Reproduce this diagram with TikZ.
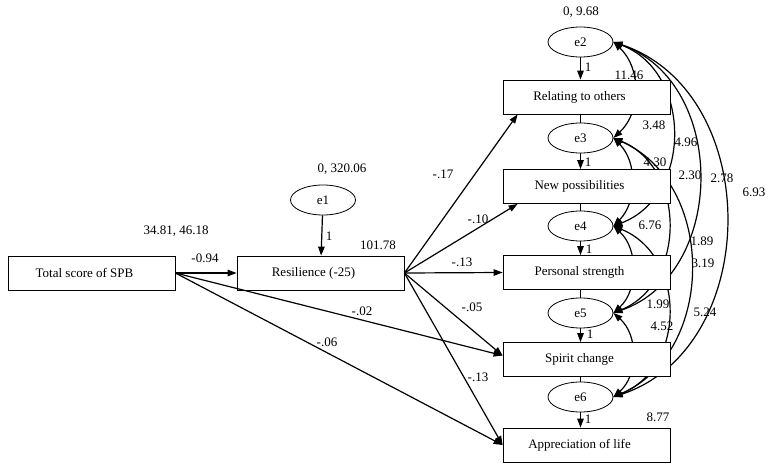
\documentclass[tikz,border=0pt]{standalone}
\usepackage{fontspec}
\setmainfont{Liberation Serif}
\usetikzlibrary{shapes.geometric,arrows.meta,calc}

\tikzset{
  var/.style={draw, fill=white, line width=0.8pt, minimum width=167pt, minimum height=34pt, inner sep=0pt,
    execute at end node={\hspace*{14pt}}},
  err/.style={draw, fill=white, ellipse, line width=0.8pt, minimum width=65pt, minimum height=30pt, inner sep=0pt},
  reg/.style={-{Triangle[length=9pt,width=6.5pt]}, line width=1.2pt},
  cov/.style={{Triangle[length=9pt,width=6.5pt]}-{Triangle[length=9pt,width=6.5pt]}, line width=1.2pt},
  lbl/.style={inner sep=1pt}
}

\begin{document}
\begin{tikzpicture}[x=1pt, y=-1pt, font=\fontsize{13}{15}\selectfont]
\useasboundingbox (0,0) rectangle (773,471);

% error terms
\node[err] (e1) at (323,200) {e1};
\node[err] (e2) at (580.5,42) {e2};
\node[err] (e3) at (580.5,138) {e3};
\node[err] (e4) at (580.5,226) {e4};
\node[err] (e5) at (580.5,313) {e5};
\node[err] (e6) at (580.5,397) {e6};

% covariances between the errors
\draw[cov] (e2.east) .. controls +(28,26) and +(28,-26) .. (e3.east);
\draw[cov] (e2.east) .. controls +(79,30) and +(79,-30) .. (e4.east);
\draw[cov] (e2.east) .. controls +(114,40) and +(114,-40) .. (e5.east);
\draw[cov] (e2.east) .. controls +(150,50) and +(150,-50) .. (e6.east);
\draw[cov] (e3.east) .. controls +(24,24) and +(24,-24) .. (e4.east);
\draw[cov] (e3.east) .. controls +(73,30) and +(73,-30) .. (e5.east);
\draw[cov] (e3.east) .. controls +(103,45) and +(103,-45) .. (e6.east);
\draw[cov] (e4.east) .. controls +(25,23) and +(25,-23) .. (e5.east);
\draw[cov] (e4.east) .. controls +(73,30) and +(73,-30) .. (e6.east);
\draw[cov] (e5.east) .. controls +(25,22) and +(25,-22) .. (e6.east);

% observed variables
\node[var] (spb) at (91.5,273) {Total score of SPB};
\node[var] (res) at (320.5,273) {Resilience (-25)};
\node[var] (rel) at (586.5,97) {Relating to others};
\node[var] (newp) at (586.5,186.5) {New possibilities};
\node[var] (pers) at (586.5,272.5) {Personal strength};
\node[var] (spir) at (586.5,359.5) {Spirit change};
\node[var] (appr) at (586.5,445) {Appreciation of life};

% error paths
\draw[reg] (e1) -- (res);
\draw[reg] (e2) -- (e2 |- rel.north);
\draw[reg] (e3) -- (e3 |- newp.north);
\draw[reg] (e4) -- (e4 |- pers.north);
\draw[reg] (e5) -- (e5 |- spir.north);
\draw[reg] (e6) -- (e6 |- appr.north);
\draw[line width=0.8pt] (e3 |- rel.south) -- (e3.north);
\draw[line width=0.8pt] (e4 |- newp.south) -- (e4.north);
\draw[line width=0.8pt] (e5 |- pers.south) -- (e5.north);
\draw[line width=0.8pt] (e6 |- spir.south) -- (e6.north);

% regression paths
\draw[reg] (spb.east) -- (res.west);
\draw[reg] (spb.east) -- ([yshift=4pt]spir.west);
\draw[reg] (spb.east) -- (appr.west);
\draw[reg] (res.east) -- ([xshift=15pt]rel.south west);
\draw[reg] (res.east) -- ([xshift=15pt]newp.south west);
\draw[reg] (res.east) -- (pers.west);
\draw[reg] (res.east) -- ([yshift=4pt]spir.west);
\draw[reg] (res.east) -- (appr.west);

% estimates
\node[lbl] (m2) at (581,12) {0, 9.68};
\node[lbl] (m1) at (342,169) {0, 320.06};
\node[lbl] (mspb) at (176,231) {34.81, 46.18};
\node[lbl] (ires) at (378,245) {101.78};
\node[lbl] (w1) at (329,236) {1};
\node[lbl] (w2) at (588,67) {1};
\node[lbl] (w3) at (588,162) {1};
\node[lbl] (w4) at (589,249) {1};
\node[lbl] (w5) at (590,334) {1};
\node[lbl] (w6) at (588,419) {1};
\node[lbl] (b1) at (205,258) {-0.94};
\node[lbl] (b2) at (443,174) {-.17};
\node[lbl] (b3) at (478,219) {-.10};
\node[lbl] (b4) at (462,262) {-.13};
\node[lbl] (b5) at (472,307) {-.05};
\node[lbl] (b6) at (362,311) {-.02};
\node[lbl] (b7) at (327,342) {-.06};
\node[lbl] (b8) at (478,377) {-.13};
\node[lbl] (c1) at (629,75) {11.46};
\node[lbl] (c2) at (654,125) {3.48};
\node[lbl] (c3) at (686,142) {4.96};
\node[lbl] (c4) at (655,162) {4.30};
\node[lbl] (c5) at (690,175) {2.30};
\node[lbl] (c6) at (722,178) {2.78};
\node[lbl] (c7) at (754,192) {6.93};
\node[lbl] (c8) at (650,225) {6.76};
\node[lbl] (c9) at (702,241) {1.89};
\node[lbl] (c10) at (703,263) {3.19};
\node[lbl] (c11) at (658,304) {1.99};
\node[lbl] (c12) at (705,312) {5.24};
\node[lbl] (c13) at (662,326) {4.52};
\node[lbl] (iappr) at (658,417) {8.77};
\end{tikzpicture}
\end{document}
